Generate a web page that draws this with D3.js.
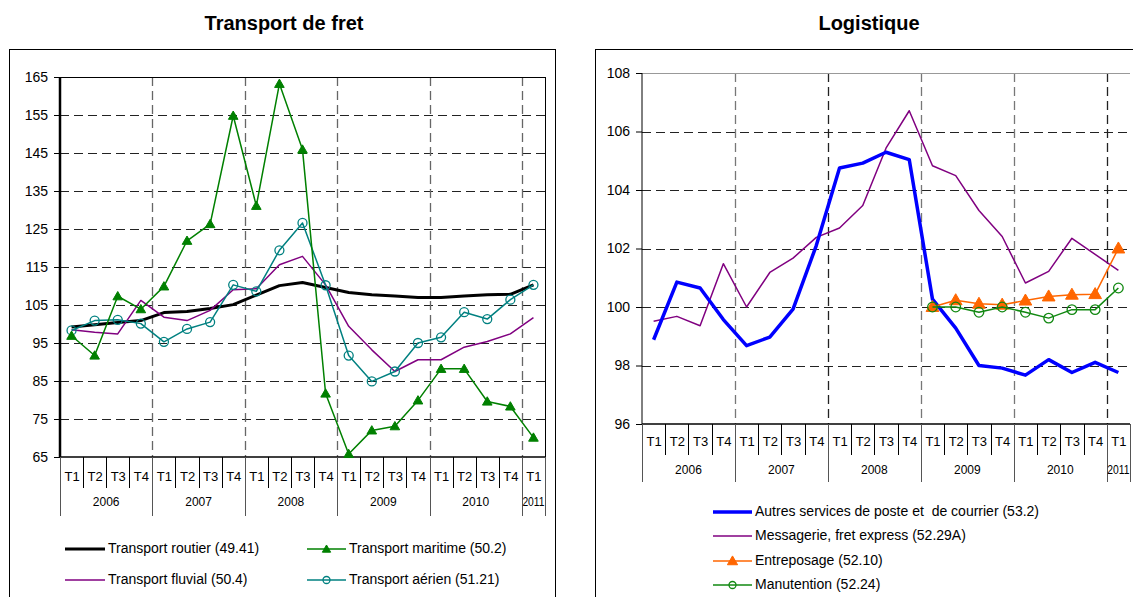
<!DOCTYPE html>
<html><head><meta charset="utf-8">
<script src="https://cdn.jsdelivr.net/npm/d3@7"></script>
<style>
body{margin:0;background:#fff;}
svg{display:block;font-family:"Liberation Sans",Arial,sans-serif;}
text{white-space:pre;}
</style></head>
<body>
<svg id="c" width="1133" height="597"></svg>
<script>
// ---------- data ----------
const quarters = ["T1","T2","T3","T4","T1","T2","T3","T4","T1","T2","T3","T4","T1","T2","T3","T4","T1","T2","T3","T4","T1"];
const years = ["2006","2007","2008","2009","2010","2011"];
const yearSpans = [4,4,4,4,4,1];

const routier  = [99.2,99.8,100.4,100.9,103.0,103.3,104.1,105.1,107.6,110.1,110.9,109.6,108.3,107.7,107.4,107.0,107.0,107.4,107.7,107.8,110.3];
const maritime = [96.9,91.7,107.3,103.9,109.9,121.9,126.3,154.8,131.1,163.2,145.9,81.7,65.8,72.0,73.1,79.9,88.2,88.2,79.6,78.3,70.1];
const fluvial  = [98.5,97.8,97.4,106.2,101.8,100.9,103.6,109.0,109.3,115.6,117.8,110.3,99.4,93.2,87.5,90.6,90.6,93.9,95.4,97.4,101.7];
const aerien   = [98.3,100.9,101.1,100.1,95.3,98.7,100.5,110.3,108.6,119.4,126.6,110.2,91.7,84.9,87.5,95.0,96.5,103.1,101.3,106.4,110.3];

const poste       = [98.88,100.85,100.65,99.57,98.68,98.97,99.93,102.1,104.75,104.92,105.29,105.04,100.27,99.28,98.0,97.91,97.67,98.2,97.76,98.11,97.76];
const messagerie  = [99.51,99.68,99.36,101.48,100.0,101.18,101.67,102.38,102.7,103.47,105.43,106.71,104.83,104.49,103.3,102.41,100.82,101.22,102.35,101.8,101.25];
const entreposage = [null,null,null,null,null,null,null,null,null,null,null,null,100.0,100.23,100.11,100.08,100.22,100.36,100.42,100.44,102.0];
const manutention = [null,null,null,null,null,null,null,null,null,null,null,null,100.0,100.0,99.82,100.0,99.82,99.62,99.91,99.91,100.65];

const ticksFret = [65,75,85,95,105,115,125,135,145,155,165];
const ticksLog  = [96,98,100,102,104,106,108];

// ---------- drawing ----------
const svg = d3.select("#c");

// outer frames
svg.append("rect").attr("x",9.5).attr("y",49.5).attr("width",546).attr("height",600)
  .attr("fill","none").attr("stroke","#000").attr("stroke-width",1);
svg.append("rect").attr("x",595.5).attr("y",49.5).attr("width",600).attr("height",600)
  .attr("fill","none").attr("stroke","#000").attr("stroke-width",1);

function triangle(g, cx, cy, color, s){
  g.append("path").attr("d", d3.symbol(d3.symbolTriangle, s)())
   .attr("transform",`translate(${cx},${cy+0.8})`).attr("fill",color).attr("stroke",color);
}
function circleMk(g, cx, cy, color, r){
  g.append("circle").attr("cx",cx).attr("cy",cy).attr("r",r)
   .attr("fill","none").attr("stroke",color).attr("stroke-width",1.3);
}

function chart(cfg){
  const g = svg.append("g");
  const x = d3.scaleBand().domain(d3.range(quarters.length)).range([cfg.left,cfg.right]);
  const bw = x.bandwidth();
  const cx = i => x(i)+bw/2;
  const y = d3.scaleLinear().domain(cfg.domain).range([cfg.bottom,cfg.top]);

  // title
  svg.append("text").attr("x",cfg.titleX).attr("y",30).attr("text-anchor","middle")
    .attr("font-size",20).attr("font-weight","bold").text(cfg.title);

  // horizontal grid
  g.selectAll(".hg").data(cfg.ticks.filter(t=>t!==cfg.domain[0] && t!==cfg.domain[1])).join("line")
    .attr("x1",cfg.left).attr("x2",cfg.right)
    .attr("y1",d=>Math.round(y(d))+0.5).attr("y2",d=>Math.round(y(d))+0.5)
    .attr("stroke","#222").attr("stroke-width",1).attr("stroke-dasharray","9,5");
  // vertical year grid
  let acc=0; const bounds=[];
  yearSpans.forEach((s,k)=>{ if(k>0) bounds.push(acc); acc+=s; });
  g.selectAll(".vg").data(bounds).join("line")
    .attr("x1",d=>Math.round(x(d))+0.5).attr("x2",d=>Math.round(x(d))+0.5)
    .attr("y1",cfg.top).attr("y2",cfg.bottom)
    .attr("stroke",(d,k)=>cfg.vgColors[k]).attr("stroke-width",1.3).attr("stroke-dasharray","9,5");

  // plot borders
  g.append("line").attr("x1",cfg.left).attr("x2",cfg.right).attr("y1",cfg.top+0.5).attr("y2",cfg.top+0.5)
    .attr("stroke",cfg.topColor).attr("stroke-width",1);
  if(cfg.rightBorder) g.append("line").attr("x1",cfg.right+0.5).attr("x2",cfg.right+0.5)
    .attr("y1",cfg.top).attr("y2",cfg.bottom).attr("stroke","#000").attr("stroke-width",1);

  // y axis
  const ya = g.append("g").attr("transform",`translate(${cfg.left},0)`)
    .call(d3.axisLeft(y).tickValues(cfg.ticks).tickSize(6).tickPadding(6).tickFormat(d3.format("d")));
  ya.select(".domain").attr("stroke","#000").attr("stroke-width",cfg.axisW).attr("d",`M0,${cfg.top}V${cfg.bottom}`);
  ya.selectAll(".tick line").attr("stroke","#000");
  ya.selectAll(".tick text").attr("font-size",14).attr("fill","#000")
    .attr("font-family","Liberation Sans, Arial, sans-serif");

  // x axis (two-level categories)
  g.append("line").attr("x1",cfg.left).attr("x2",cfg.right).attr("y1",cfg.bottom).attr("y2",cfg.bottom)
    .attr("stroke","#000").attr("stroke-width",1.5);
  const isYearBound = i => { let a=0; for(const s of yearSpans){ if(a===i) return true; a+=s;} return i===quarters.length; };
  d3.range(quarters.length+1).forEach(i=>{
    const xx = Math.round(i<quarters.length ? x(i) : cfg.right)+0.5;
    g.append("line").attr("x1",xx).attr("x2",xx).attr("y1",cfg.bottom)
     .attr("y2", isYearBound(i) ? cfg.yearDivBottom : cfg.qDivBottom)
     .attr("stroke", isYearBound(i) ? "#555" : "#000").attr("stroke-width",1);
  });
  g.selectAll(".ql").data(quarters).join("text")
    .attr("x",(d,i)=>cx(i)+0.5).attr("y",cfg.qLabelY).attr("text-anchor","middle")
    .attr("dominant-baseline","middle").attr("font-size",13).text(d=>d);
  let a2=0;
  years.forEach((yr,k)=>{
    const s=yearSpans[k];
    const mid=(x(a2)+ (a2+s<quarters.length? x(a2+s): cfg.right))/2;
    const t=g.append("text").attr("x",mid).attr("y",cfg.yLabelY).attr("text-anchor","middle")
      .attr("dominant-baseline","middle").attr("font-size",12).text(yr);
    if(s===1){ t.attr("textLength",bw-1).attr("lengthAdjust","spacingAndGlyphs"); }
    a2+=s;
  });

  // series
  const sg = g.append("g");
  cfg.series.forEach(s=>{
    const line = d3.line().defined(d=>d!=null).x((d,i)=>cx(i)).y(d=>y(d));
    sg.append("path").datum(s.values).attr("d",line)
      .attr("fill","none").attr("stroke",s.color).attr("stroke-width",s.width)
      .attr("stroke-linejoin","round");
    s.values.forEach((v,i)=>{
      if(v==null) return;
      if(s.marker==="tri") triangle(sg,cx(i),y(v),s.color,s.msize);
      if(s.marker==="circ") circleMk(sg,cx(i),y(v),s.color,s.msize);
    });
  });

  // legend
  cfg.legend.forEach(L=>{
    const s=L.s;
    g.append("line").attr("x1",L.x1).attr("x2",L.x2).attr("y1",L.y).attr("y2",L.y)
      .attr("stroke",s.color).attr("stroke-width",s.width);
    const mx=(L.x1+L.x2)/2;
    if(s.marker==="tri") triangle(g,mx,L.y,s.color,s.legendSize);
    if(s.marker==="circ") circleMk(g,mx,L.y,s.color,s.legendSize);
    g.append("text").attr("x",L.x2+3).attr("y",L.y).attr("dominant-baseline","middle")
      .attr("font-size",14).text(s.name);
  });
}

const sRoutier  = {name:"Transport routier (49.41)", values:routier,  color:"#000000", width:3};
const sMaritime = {name:"Transport maritime (50.2)", values:maritime, color:"#008000", width:1.5, marker:"tri", msize:40, legendSize:30};
const sFluvial  = {name:"Transport fluvial (50.4)",  values:fluvial,  color:"#800080", width:1.5};
const sAerien   = {name:"Transport aérien (51.21)",  values:aerien,   color:"#008080", width:1.5, marker:"circ", msize:4.5, legendSize:3.5};

chart({id:1,title:"Transport de fret",titleX:284,left:60,right:545,top:77,bottom:457,domain:[65,165],ticks:ticksFret,
  axisW:2.5, topColor:"#000", rightBorder:true, vgColors:["#666","#666","#666","#666","#666"],
  qDivBottom:488, yearDivBottom:516, qLabelY:478, yLabelY:503,
  series:[sRoutier,sFluvial,sAerien,sMaritime],
  legend:[{s:sRoutier,x1:65,x2:105,y:549},{s:sMaritime,x1:307,x2:346,y:549},
          {s:sFluvial,x1:65,x2:105,y:580},{s:sAerien,x1:307,x2:346,y:580}]});

const sPoste = {name:"Autres services de poste et  de courrier (53.2)", values:poste, color:"#0000FF", width:3.5};
const sMess  = {name:"Messagerie, fret express (52.29A)", values:messagerie, color:"#800080", width:1.5};
const sEntr  = {name:"Entreposage (52.10)", values:entreposage, color:"#FF6600", width:1.5, marker:"tri", msize:70, legendSize:45};
const sManu  = {name:"Manutention (52.24)", values:manutention, color:"#118811", width:1.5, marker:"circ", msize:4.8, legendSize:3.5};

chart({id:2,title:"Logistique",titleX:869,left:642,right:1130,top:73,bottom:424,domain:[96,108],ticks:ticksLog,
  axisW:1, topColor:"#999", rightBorder:false, vgColors:["#777","#222","#777","#777","#222"],
  qDivBottom:455, yearDivBottom:482, qLabelY:443, yLabelY:471,
  series:[sMess,sPoste,sEntr,sManu],
  legend:[{s:sPoste,x1:713,x2:752,y:512},{s:sMess,x1:713,x2:752,y:536},
          {s:sEntr,x1:713,x2:752,y:561},{s:sManu,x1:713,x2:752,y:585}]});
</script>
</body></html>
